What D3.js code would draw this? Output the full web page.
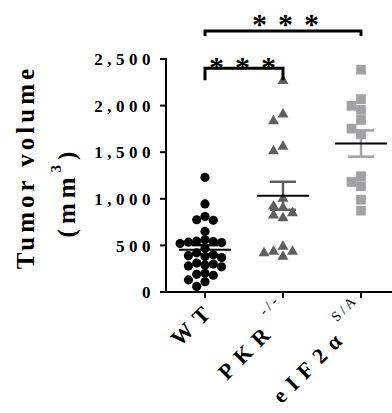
<!DOCTYPE html>
<html>
<head>
<meta charset="utf-8">
<script src="https://cdn.jsdelivr.net/npm/d3@7/dist/d3.min.js"></script>
<style>
  body { margin: 0; background: #fff; }
  svg { display: block; }
  text { font-family: "Liberation Serif", "Times New Roman", serif; }
</style>
</head>
<body>
<div id="chart"></div>
<script>
'use strict';

// ─── Data ───────────────────────────────────────────────────────────────────
const categories = ['WT', 'PKR', 'eIF2a'];
const wtValues  = [1230, 945, 810, 775, 770, 650, 560, 545, 540, 535, 530, 520, 470,
                   420, 400, 390, 380, 370, 310, 300, 290, 280, 270, 200, 190, 180, 130, 110, 60];
const pkrValues = [2266, 1907, 1835, 1559, 1512, 1002, 919, 902, 848, 822, 794,
                   488, 434, 434, 417, 380];
const eifValues = [2385, 2069, 1997, 1954, 1846, 1753, 1692, 1242, 1180, 1135, 991, 873];
const yTicks = [0, 500, 1000, 1500, 2000, 2500];
const yTickLabels = ['0', '500', '1,000', '1,500', '2,000', '2,500'];
const comparisons = [
    { from: 'WT', to: 'eIF2a', level: 2800, label: '***' },
    { from: 'WT', to: 'PKR',   level: 2400, label: '***' }
];

const series = [
    { key: 'WT',    values: wtValues,  shape: 'circle',   color: '#000000', step: 8.3 },
    { key: 'PKR',   values: pkrValues, shape: 'triangle', color: '#5e5e5e', step: 9.5 },
    { key: 'eIF2a', values: eifValues, shape: 'square',   color: '#a2a2a6', step: 9.5 }
];

// ─── Layout ─────────────────────────────────────────────────────────────────
const W = 392, H = 413;
const svg = d3.select('#chart').append('svg')
    .attr('width', W).attr('height', H);

const x = d3.scalePoint().domain(categories).range([166, 400]).padding(0.5);
const y = d3.scaleLinear().domain([0, 2500]).range([292, 59]);

// ─── Axes ───────────────────────────────────────────────────────────────────
const axisG = svg.append('g');
axisG.append('line')
    .attr('x1', 166).attr('x2', 166)
    .attr('y1', y(0) + 1).attr('y2', y(2500) - 1)
    .attr('stroke', '#000').attr('stroke-width', 2);
axisG.selectAll('.ytick').data(yTicks).enter().append('line')
    .attr('x1', 160).attr('x2', 166)
    .attr('y1', d => y(d)).attr('y2', d => y(d))
    .attr('stroke', '#000').attr('stroke-width', 2);
axisG.selectAll('.ylab').data(yTicks).enter().append('text')
    .attr('x', 155).attr('y', d => y(d))
    .attr('dy', '0.36em')
    .attr('text-anchor', 'end')
    .attr('font-size', 17).attr('font-weight', 'bold')
    .style('letter-spacing', '4.5px')
    .text((d, i) => yTickLabels[i]);

axisG.append('line')
    .attr('x1', 165).attr('x2', 392)
    .attr('y1', y(0)).attr('y2', y(0))
    .attr('stroke', '#000').attr('stroke-width', 2);
axisG.selectAll('.xtick').data(categories).enter().append('line')
    .attr('x1', d => x(d)).attr('x2', d => x(d))
    .attr('y1', y(0)).attr('y2', y(0) + 6)
    .attr('stroke', '#000').attr('stroke-width', 2);

// x labels (rotated, with superscripts)
const xLabels = {
    WT:    { main: 'WT',   sup: '' },
    PKR:   { main: 'PKR',  sup: '-/-' },
    eIF2a: { main: 'eIF2\u03b1', sup: 'S/A' }
};
categories.forEach(function (c) {
    const hasSup = !!xLabels[c].sup;
    const t = svg.append('text')
        .attr('transform', 'translate(' + (x(c) + (hasSup ? 11 : 12)) + ',' + (hasSup ? 314 : 310) + ') rotate(-45)')
        .attr('text-anchor', 'end')
        .attr('font-size', 22).attr('font-weight', 'bold')
        .style('letter-spacing', '8px');
    t.append('tspan').text(xLabels[c].main);
    if (hasSup) {
        t.append('tspan')
            .attr('dx', 2).attr('dy', -19)
            .attr('font-size', 14).attr('font-weight', 'normal')
            .style('letter-spacing', '3px')
            .text(xLabels[c].sup);
    }
});

// y title
svg.append('text')
    .attr('transform', 'translate(34,167) rotate(-90)')
    .attr('text-anchor', 'middle')
    .attr('font-size', 25).attr('font-weight', 'bold')
    .style('letter-spacing', '4px')
    .text('Tumor volume');
const yt2 = svg.append('text')
    .attr('transform', 'translate(75,192) rotate(-90)')
    .attr('text-anchor', 'middle')
    .attr('font-size', 25).attr('font-weight', 'bold')
    .style('letter-spacing', '5px');
yt2.append('tspan').text('(mm');
yt2.append('tspan').attr('dy', -14).attr('font-size', 15).text('3');
yt2.append('tspan').attr('dy', 14).text(')');

// ─── Points (simple beeswarm) ───────────────────────────────────────────────
function swarm(values, cx, step) {
    const placed = [];
    values.slice().sort((a, b) => b - a).forEach(function (v) {
        const py = y(v);
        for (let k = 0; k < 40; k++) {
            const off = k === 0 ? 0 : (k % 2 ? -1 : 1) * Math.ceil(k / 2) * step;
            const px = cx + off;
            const hit = placed.some(p => Math.hypot(p.x - px, p.y - py) < step - 0.5);
            if (!hit) { placed.push({ x: px, y: py, v: v }); break; }
        }
    });
    return placed;
}

const symbolType = { circle: d3.symbolCircle, triangle: d3.symbolTriangle, square: d3.symbolSquare };
const symbolSize = { circle: 66, triangle: 52, square: 95 };

series.forEach(function (s) {
    const cx = x(s.key);
    const pts = swarm(s.values, cx, s.step);
    const sym = d3.symbol().type(symbolType[s.shape]).size(symbolSize[s.shape]);
    svg.append('g').selectAll('path').data(pts).enter().append('path')
        .attr('d', sym)
        .attr('transform', d => 'translate(' + d.x + ',' + d.y + ')')
        .attr('fill', s.color);

    const m = d3.mean(s.values);
    const sem = d3.deviation(s.values) / Math.sqrt(s.values.length);
    const g = svg.append('g').attr('stroke', s.color).attr('stroke-width', 2.5);
    g.append('line').attr('x1', cx).attr('x2', cx).attr('y1', y(m + sem)).attr('y2', y(m - sem));
    g.append('line').attr('x1', cx - 13).attr('x2', cx + 13).attr('y1', y(m + sem)).attr('y2', y(m + sem));
    g.append('line').attr('x1', cx - 13).attr('x2', cx + 13).attr('y1', y(m - sem)).attr('y2', y(m - sem));
    svg.append('line')
        .attr('x1', cx - 26).attr('x2', cx + 26)
        .attr('y1', y(m)).attr('y2', y(m))
        .attr('stroke', '#000').attr('stroke-width', 2);
});

// ─── Significance brackets ──────────────────────────────────────────────────
const legLen = [5, 12];
const starDrop = [3, 9];
comparisons.forEach(function (c, i) {
    const x1 = x(c.from), x2 = x(c.to), yy = y(c.level);
    svg.append('path')
        .attr('d', 'M' + x1 + ',' + (yy + legLen[i]) + 'V' + yy + 'H' + x2 + 'V' + (yy + legLen[i]))
        .attr('fill', 'none').attr('stroke', '#000').attr('stroke-width', 3);
    svg.append('text')
        .attr('x', (x1 + x2) / 2 + 6 + (i === 0 ? 2 : -2)).attr('y', yy + starDrop[i])
        .attr('text-anchor', 'middle')
        .attr('font-family', 'Liberation Sans, Arial, sans-serif')
        .attr('font-size', 30).attr('font-weight', 'bold')
        .style('letter-spacing', '11px')
        .text(c.label);
});
</script>
</body>
</html>
